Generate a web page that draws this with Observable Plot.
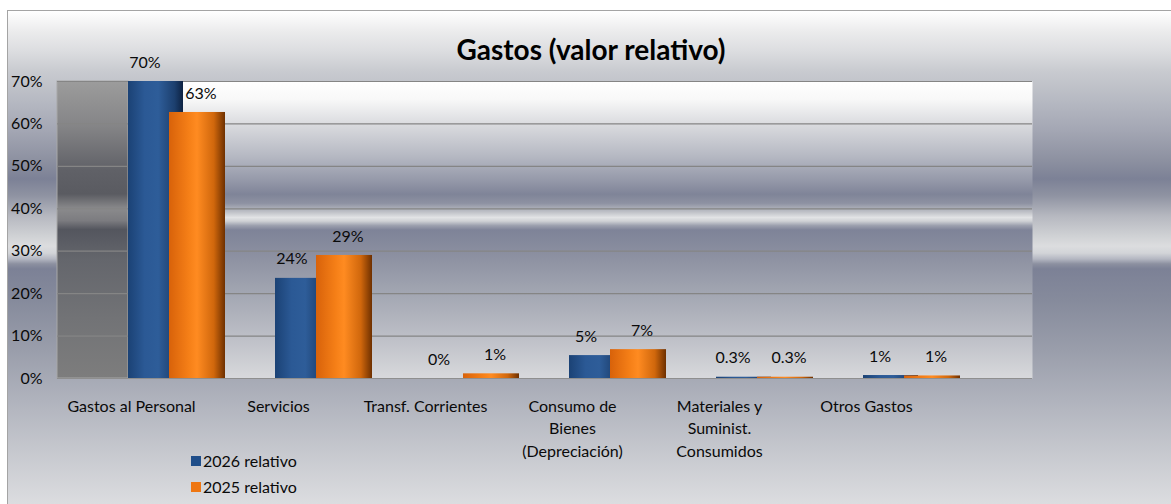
<!DOCTYPE html>
<html><head><meta charset="utf-8">
<script src="https://cdn.jsdelivr.net/npm/d3@7"></script>
<script src="https://cdn.jsdelivr.net/npm/@observablehq/plot@0.6"></script>
<style>
body{margin:0;background:#fff;}
#wrap{position:relative;width:1171px;height:504px;overflow:hidden;font-family:Lato,"Open Sans",sans-serif;}
#area{position:absolute;left:7px;top:10px;width:1170px;height:494px;border-left:1.5px solid #a4a4a4;border-top:1.5px solid #a4a4a4;
background:linear-gradient(to bottom,#ffffff 0%,#fafafa 1%,#ececed 4%,#dcdde0 8.1%,#c9cbd0 12.1%,#b6b9c2 18.2%,#a3a6b3 24.3%,#8c90a0 30.4%,#7c8196 34%,#8f93a2 37.4%,#b6b8c0 41.5%,#cfd1d4 45.5%,#dcdddf 47.6%,#d2d4d8 49%,#b4b7c2 50.2%,#8c90a0 51.2%,#7c8196 52.2%,#868b9c 58.7%,#9a9eab 68.8%,#b0b3bd 78.9%,#c6c8ce 89.1%,#dcdde0 100%);}
#plot{position:absolute;left:0;top:0;}
#title{position:absolute;left:591px;top:49px;transform:translate(-50%,-50%);font-weight:bold;font-size:28px;color:#000;white-space:nowrap;}
.leg{position:absolute;left:191px;font-size:16px;color:#0a0a0a;display:flex;align-items:center;white-space:nowrap;}
.leg span.sw{display:inline-block;width:10px;height:10px;margin-right:2px;}
</style></head>
<body>
<div id="wrap">
  <div id="area"></div>
  <div id="plot"></div>
  <div id="title">Gastos (valor relativo)</div>
  <div class="leg" style="top:451px"><span class="sw" style="background:#1f4e8a"></span>2026 relativo</div>
  <div class="leg" style="top:477px"><span class="sw" style="background:#ee7612"></span>2025 relativo</div>
</div>
<script>
const categories = ["Gastos al Personal", "Servicios", "Transf. Corrientes", "Consumo de\nBienes\n(Depreciación)", "Materiales y\nSuminist.\nConsumidos", "Otros Gastos"];
const series = ["2026 relativo", "2025 relativo"];
const values2026 = [0.70, 0.236, 0.0, 0.054, 0.003, 0.007];
const values2025 = [0.627, 0.29, 0.011, 0.068, 0.003, 0.006];
const yTicks = [0, 0.1, 0.2, 0.3, 0.4, 0.5, 0.6, 0.7];

const rows = [];
categories.forEach((c, i) => {
  rows.push({cat: c, series: series[0], v: values2026[i]});
  rows.push({cat: c, series: series[1], v: values2025[i]});
});
const fmtLabel = v => v === 0 ? "0%" : (v < 0.005 ? (v * 100).toFixed(1) + "%" : Math.round(v * 100) + "%");

function grad(defs, id, stops, horizontal) {
  const g = defs.append("linearGradient").attr("id", id)
    .attr("x1", 0).attr("y1", 0).attr("x2", horizontal ? 1 : 0).attr("y2", horizontal ? 0 : 1);
  stops.forEach(([o, c]) => g.append("stop").attr("offset", o).attr("stop-color", c));
}
const defsMark = () => {
  const defs = d3.create("svg:defs");
  grad(defs, "plotBg", [[0,"#ffffff"],[0.06,"#f8f8f8"],[0.15,"#d8d9dd"],[0.25,"#b6b9c3"],[0.33,"#969aaa"],[0.38,"#7f8498"],[0.41,"#8e92a2"],[0.44,"#c0c2c8"],[0.458,"#e2e3e5"],[0.47,"#cfd1d5"],[0.485,"#9ca0ae"],[0.50,"#7e8398"],[0.58,"#8b8fa0"],[0.70,"#a0a4b0"],[0.85,"#bbbdc5"],[1,"#d8d9dc"]], false);
  grad(defs, "stripBg", [[0,"#9c9c9c"],[0.15,"#858587"],[0.3,"#606167"],[0.38,"#5a5b61"],[0.43,"#8a8a8c"],[0.47,"#7c7c80"],[0.5,"#54565e"],[0.6,"#64666c"],[0.8,"#727376"],[1,"#7d7d7d"]], false);
  grad(defs, "blueGrad", [[0,"#1b4275"],[0.3,"#2b5995"],[0.55,"#2e5d99"],[0.85,"#1c3f6e"],[1,"#0d2242"]], true);
  grad(defs, "orangeGrad", [[0,"#d8620a"],[0.35,"#f57f17"],[0.5,"#ff8b21"],[0.8,"#d0670c"],[1,"#6e3000"]], true);
  return defs.node();
};
const blueInset = [25, 67];
const orangeInset = [66, 25];
const stripMark = (index, scales, values, dims) => {
  const x1 = scales.x(categories[0]) + blueInset[0];
  return d3.create("svg:rect")
    .attr("x", dims.marginLeft).attr("y", dims.marginTop)
    .attr("width", x1 - dims.marginLeft)
    .attr("height", dims.height - dims.marginTop - dims.marginBottom)
    .attr("fill", "url(#stripBg)").attr("stroke", "#a8a8a8").attr("stroke-width", 1).node();
};

const plot = Plot.plot({
  width: 1171, height: 504,
  marginLeft: 57, marginRight: 139, marginTop: 81, marginBottom: 126,
  style: {background: "transparent", fontFamily: "Lato, 'Open Sans', sans-serif", fontSize: "16px", color: "#0a0a0a"},
  x: {type: "band", domain: categories, range: [103, 985], paddingInner: 0, paddingOuter: 0, round: false},
  y: {domain: [0, 0.7]},
  marks: [
    defsMark,
    Plot.frame({fill: "url(#plotBg)", stroke: null}),
    stripMark,
    Plot.ruleY(yTicks.slice(1), {stroke: "#858585", strokeWidth: 1.2}),
    Plot.ruleY([0], {stroke: "#8f8f8f", strokeWidth: 1.2}),
    Plot.barY(rows.filter(d => d.series === series[0]), {x: "cat", y: "v", fill: "url(#blueGrad)", insetLeft: blueInset[0], insetRight: blueInset[1]}),
    Plot.barY(rows.filter(d => d.series === series[1]), {x: "cat", y: "v", fill: "url(#orangeGrad)", insetLeft: orangeInset[0], insetRight: orangeInset[1]}),
    Plot.text(rows.filter(d => d.series === series[0]), {x: "cat", y: "v", text: d => fmtLabel(d.v), dx: -32, dy: -19, fill: "#0a0a0a", fontSize: 16}),
    Plot.text(rows.filter(d => d.series === series[1]), {x: "cat", y: "v", text: d => fmtLabel(d.v), dx: 24, dy: -19, fill: "#0a0a0a", fontSize: 16}),
    Plot.axisY({ticks: yTicks, tickFormat: d => Math.round(d * 100) + "%", tickSize: 0, tickPadding: 15, label: null, fontSize: 16}),
    Plot.axisX({tickSize: 0, tickPadding: 17, dx: -45.5, label: null, lineHeight: 1.42, fontSize: 16})
  ]
});
document.getElementById("plot").appendChild(plot);
</script>
</body></html>
